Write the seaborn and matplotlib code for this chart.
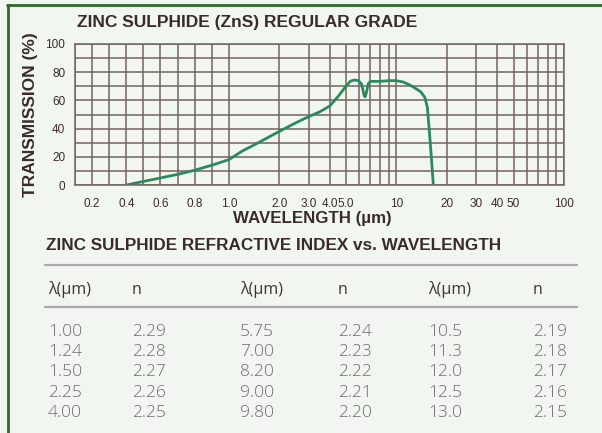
import numpy as np
import matplotlib
matplotlib.use("Agg")
import matplotlib.pyplot as plt
from matplotlib.lines import Line2D
import seaborn as sns

# ====================
# DATA
# ====================
wavelength_um = [0.40, 0.50, 0.60, 0.70, 0.80, 0.90, 1.00, 1.20, 1.50, 2.00, 2.50,
                 3.00, 3.50, 4.00, 4.50, 5.00, 5.30, 5.60, 5.95, 6.20, 6.40, 6.50,
                 6.60, 6.80, 7.00, 8.00, 9.00, 10.0, 11.0, 12.0, 13.0, 14.0, 14.8,
                 15.3, 15.8, 16.2, 16.6]
transmission_pct = [0.0, 2.5, 5.0, 7.5, 10.5, 14.0, 18.0, 24.0, 30.0, 38.0, 44.0,
                    48.5, 52.0, 56.0, 63.0, 70.0, 73.5, 74.5, 74.0, 71.5, 64.0, 62.5,
                    65.0, 72.0, 73.5, 73.5, 74.0, 74.0, 73.0, 71.0, 68.5, 66.0, 62.0,
                    55.0, 35.0, 18.0, 0.0]

x_ticks = [0.2, 0.4, 0.6, 0.8, 1.0, 2.0, 3.0, 4.0, 5.0, 10, 20, 30, 40, 50, 100]
x_tick_labels = ["0.2", "0.4", "0.6", "0.8", "1.0", "2.0", "3.0", "4.0", "5.0",
                 "10", "20", "30", "40", "50", "100"]
x_grid = [0.1, 0.3, 0.5, 0.7, 0.9, 6, 7, 8, 9, 60, 70, 80, 90]
y_ticks = [0, 20, 40, 60, 80, 100]
y_grid = [10, 30, 50, 70, 90]

table_headers = ["λ(µm)", "n", "λ(µm)", "n", "λ(µm)", "n"]
lambda_col1 = ["1.00", "1.24", "1.50", "2.25", "4.00"]
n_col1 = ["2.29", "2.28", "2.27", "2.26", "2.25"]
lambda_col2 = ["5.75", "7.00", "8.20", "9.00", "9.80"]
n_col2 = ["2.24", "2.23", "2.22", "2.21", "2.20"]
lambda_col3 = ["10.5", "11.3", "12.0", "12.5", "13.0"]
n_col3 = ["2.19", "2.18", "2.17", "2.16", "2.15"]

# ====================
# STYLE
# ====================
sns.set_style("white")
plt.rcParams['font.family'] = ['Liberation Sans', 'DejaVu Sans']

W, H = 602, 433
bg = "#f2f6f1"
grid_col = "#75625f"
text_dark = "#3a2b2b"
curve_col = "#2b8a5c"


def fx(px):
    return px / W


def fy(py):
    return 1 - py / H


# linear below 1 um, log above (as on the original chart paper)
A = 1.02


def fwd(x):
    x = np.asarray(x, dtype=float)
    return np.where(x < 1, (x - 1) * A, np.log10(np.clip(x, 1e-9, None)))


def inv(y):
    y = np.asarray(y, dtype=float)
    return np.where(y < 0, y / A + 1, 10 ** np.clip(y, -20, 20))


fig = plt.figure(figsize=(W / 100, H / 100), dpi=100, facecolor=bg)
ax = fig.add_axes([fx(75), fy(185), fx(564) - fx(75), fy(44) - fy(185)])
ax.set_facecolor(bg)
ax.set_xscale('function', functions=(fwd, inv))

sns.lineplot(x=wavelength_um, y=transmission_pct, ax=ax, color=curve_col,
             linewidth=2.0, sort=False)

ax.set_xlim(0.1, 100)
ax.set_ylim(0, 100)
ax.set_xticks(x_ticks)
ax.set_xticklabels(x_tick_labels)
ax.set_xticks(x_grid, minor=True)
ax.set_yticks(y_ticks)
ax.set_yticks(y_grid, minor=True)
ax.tick_params(which='both', length=0)
ax.tick_params(axis='x', pad=9, labelsize=8.5, labelcolor=text_dark)
ax.tick_params(axis='y', pad=7, labelsize=8.5, labelcolor=text_dark)
ax.grid(which='both', color=grid_col, linewidth=1.1)
ax.set_axisbelow(True)
for sp in ax.spines.values():
    sp.set_color(grid_col)
    sp.set_linewidth(1.1)
ax.set_xlabel("")
ax.set_ylabel("")

# titles and labels
fig.text(fx(77), fy(23), "ZINC SULPHIDE (ZnS) REGULAR GRADE", fontsize=12.5,
         fontweight='bold', color=text_dark, ha='left', va='center')
fig.text(fx(31), fy(115), "TRANSMISSION (%)", fontsize=12.5, fontweight='bold',
         color=text_dark, rotation=90, ha='center', va='center')
fig.text(fx(312), fy(218), "WAVELENGTH (µm)", fontsize=12.2, fontweight='bold',
         color=text_dark, ha='center', va='center')
fig.text(fx(46), fy(245), "ZINC SULPHIDE REFRACTIVE INDEX vs. WAVELENGTH",
         fontsize=12.3, fontweight='bold', color=text_dark, ha='left', va='center')

# table
for y in [265, 307]:
    fig.add_artist(Line2D([fx(45), fx(577)], [fy(y), fy(y)], color="#a8a8a8",
                          linewidth=1.6))

col_x = [48, 132, 240, 338, 428, 533]
for cx, head in zip(col_x, table_headers):
    fig.text(fx(cx), fy(290), head, fontsize=11.5, color="#3d3535",
             family=['Open Sans', 'DejaVu Sans'], ha='left', va='center')

columns = [lambda_col1, n_col1, lambda_col2, n_col2, lambda_col3, n_col3]
row_y = [332, 352, 372, 393, 413]
for cx, col in zip(col_x, columns):
    for ry, val in zip(row_y, col):
        fig.text(fx(cx), fy(ry), val, fontsize=12.5, color="#6c6c6c",
                 family=['Open Sans', 'DejaVu Sans'], fontweight='light',
                 ha='left', va='center')

# green frame on top and left
fig.add_artist(Line2D([fx(7), fx(602)], [fy(5), fy(5)], color="#2d6a2a", linewidth=2))
fig.add_artist(Line2D([fx(8), fx(8)], [fy(5), fy(433)], color="#2d6a2a", linewidth=2))

fig.savefig("out.png", dpi=100, facecolor=bg)
